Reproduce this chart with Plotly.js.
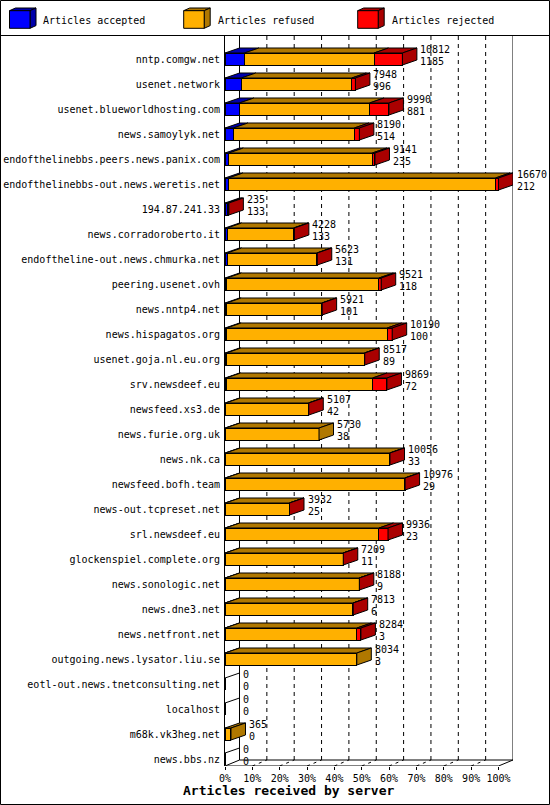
<!DOCTYPE html>
<html>
<head>
<meta charset="utf-8">
<script src="https://cdn.plot.ly/plotly-3.0.1.min.js"></script>
<style>html,body{margin:0;padding:0;background:#fff;}#chart{width:550px;height:805px;}</style>
</head>
<body>
<div id="chart"></div>
<script>
// ---------------- data ----------------
const categories = [
  "nntp.comgw.net", "usenet.network", "usenet.blueworldhosting.com", "news.samoylyk.net",
  "endofthelinebbs.peers.news.panix.com", "endofthelinebbs-out.news.weretis.net", "194.87.241.33",
  "news.corradoroberto.it", "endoftheline-out.news.chmurka.net", "peering.usenet.ovh", "news.nntp4.net",
  "news.hispagatos.org", "usenet.goja.nl.eu.org", "srv.newsdeef.eu", "newsfeed.xs3.de", "news.furie.org.uk",
  "news.nk.ca", "newsfeed.bofh.team", "news-out.tcpreset.net", "srl.newsdeef.eu", "glockenspiel.complete.org",
  "news.sonologic.net", "news.dne3.net", "news.netfront.net", "outgoing.news.lysator.liu.se",
  "eotl-out.news.tnetconsulting.net", "localhost", "m68k.vk3heg.net", "news.bbs.nz"
];
const offered  = [10812, 7948, 9990, 8190, 9141, 16670, 235, 4228, 5623, 9521, 5921, 10190, 8517, 9869, 5107, 5730, 10056, 10976, 3932, 9936, 7209, 8188, 7813, 8284, 8034, 0, 0, 365, 0];
const accepted = [1185, 996, 881, 514, 235, 212, 133, 133, 131, 118, 101, 100, 89, 72, 42, 38, 33, 29, 25, 23, 11, 9, 6, 3, 3, 0, 0, 0, 0];
const refused  = [7897, 6732, 7929, 7371, 8743, 16275, 0, 4045, 5462, 9261, 5800, 9785, 8408, 8922, 5045, 5692, 10003, 10927, 3892, 9363, 7183, 8164, 7792, 8037, 8031, 0, 0, 365, 0];
const rejected = [1730, 220, 1180, 305, 163, 183, 102, 50, 30, 142, 20, 305, 20, 875, 20, 0, 20, 20, 15, 550, 15, 15, 15, 244, 0, 0, 0, 0, 0];
const seriesNames = ["Articles accepted", "Articles refused", "Articles rejected"];
const xTickVals = [0, 10, 20, 30, 40, 50, 60, 70, 80, 90, 100];
const xTickText = ["0%", "10%", "20%", "30%", "40%", "50%", "60%", "70%", "80%", "90%", "100%"];
const xTitle = "Articles received by server";

// ---------------- styles / geometry ----------------
const FONT = "DejaVu Sans Mono";
const frontColors = ["#0000FF", "#FFB000", "#FF0000"];
const darkColors  = ["#0000AA", "#B07800", "#AA0000"];
const M = {l: 225, r: 37, t: 36, b: 39};
const PW = 550 - M.l - M.r, PH = 805 - M.t - M.b;
const PX_PER_PCT = 2.735;           // px per 1 %
const PX_PER_ROW = 25;              // px per category row
const XMAX = PW / PX_PER_PCT;
const YTOP = (M.t - 59) / PX_PER_ROW;
const YBOT = YTOP + PH / PX_PER_ROW;
const DX = 14.5 / PX_PER_PCT;       // depth in x (data units)
const DY = 5 / PX_PER_ROW;          // depth in y (data units)
const FLOOR_DY = 6 / PX_PER_ROW;
const HH = 0.24;                    // half bar height
const LABEL_GAP = 2.5 / PX_PER_PCT;
const px2x = px => (px - M.l) / PW;
const py2y = py => (805 - M.b - py) / PH;

const seriesVals = [accepted, refused, rejected];
const maxTotal = Math.max(...offered);
const pct = v => v / maxTotal * 100;
const idx = categories.map((_, i) => i);

const traces = [];
// front faces
seriesVals.forEach((vals, k) => {
  traces.push({
    type: "bar", orientation: "h", name: seriesNames[k],
    y: idx, x: vals.map(pct), width: 2 * HH,
    marker: {color: frontColors[k], line: {color: "#000", width: 1}},
    hoverinfo: "skip", showlegend: false
  });
});
// top faces
seriesVals.forEach((vals, k) => {
  const xs = [], ys = [];
  idx.forEach(i => {
    const v = vals[i];
    if (v <= 0) return;
    let before = 0;
    for (let j = 0; j < k; j++) before += seriesVals[j][i];
    const x0 = pct(before), x1 = pct(before + v), yT = i - HH;
    xs.push(x0, x1, x1 + DX, x0 + DX, x0, null);
    ys.push(yT, yT, yT - DY, yT - DY, yT, null);
  });
  if (xs.length) traces.push({type: "scatter", mode: "lines", x: xs, y: ys, fill: "toself",
    fillcolor: darkColors[k], line: {color: "#000", width: 1}, hoverinfo: "skip", showlegend: false});
});
// side faces (colour of last non-empty segment)
seriesVals.forEach((vals, k) => {
  const xs = [], ys = [];
  idx.forEach(i => {
    let last = -1, total = 0;
    seriesVals.forEach((s, j) => { total += s[i]; if (s[i] > 0) last = j; });
    if (last !== k) return;
    const xe = pct(total);
    xs.push(xe, xe, xe + DX, xe + DX, xe, null);
    ys.push(i - HH, i + HH, i + HH - DY, i - HH - DY, i - HH, null);
  });
  if (xs.length) traces.push({type: "scatter", mode: "lines", x: xs, y: ys, fill: "toself",
    fillcolor: darkColors[k], line: {color: "#000", width: 1}, hoverinfo: "skip", showlegend: false});
});

const shapes = [];
const annotations = [];
// empty rows: collapsed bar drawn as a single slanted line
idx.forEach(i => {
  const total = accepted[i] + refused[i] + rejected[i];
  if (total > 0) return;
  shapes.push({type: "line", xref: "x", yref: "y", x0: 0, x1: DX, y0: i - HH, y1: i - HH - DY,
    line: {color: "#000", width: 1}});
});

// value labels
idx.forEach(i => {
  const total = accepted[i] + refused[i] + rejected[i];
  const xl = (pct(total) + DX + LABEL_GAP) / XMAX;
  annotations.push({x: xl, y: i, xref: "paper", yref: "y", xanchor: "left", yanchor: "middle",
    text: String(offered[i]), showarrow: false, yshift: 9.5, borderpad: 0,
    font: {family: FONT, size: 10, color: "#000"}});
  annotations.push({x: xl, y: i, xref: "paper", yref: "y", xanchor: "left", yanchor: "middle",
    text: String(accepted[i]), showarrow: false, yshift: -2, borderpad: 0,
    font: {family: FONT, size: 10, color: "#000"}});
});
// axis title
annotations.push({x: px2x(288.5), y: py2y(791), xref: "paper", yref: "paper", xanchor: "center", yanchor: "middle",
  text: "<b>" + xTitle + "</b>", showarrow: false, font: {family: FONT, size: 13, color: "#000"}});

// legend (cubes + labels)
const legendX = [9.5, 183.7, 357.7];
const legendTextX = [42.3, 216.7, 390.7];
seriesNames.forEach((n, k) => {
  const fx0 = legendX[k], fx1 = fx0 + 20.5, fy0 = 10.7, fy1 = 28.3, ddx = 6, ddy = 2.7;
  const P = (x, y) => px2x(x) + "," + py2y(y);
  shapes.push({type: "path", xref: "paper", yref: "paper", fillcolor: darkColors[k], line: {color: "#000", width: 1},
    path: "M" + P(fx0, fy0) + "L" + P(fx1, fy0) + "L" + P(fx1 + ddx, fy0 - ddy) + "L" + P(fx0 + ddx, fy0 - ddy) + "Z"});
  shapes.push({type: "path", xref: "paper", yref: "paper", fillcolor: darkColors[k], line: {color: "#000", width: 1},
    path: "M" + P(fx1, fy0) + "L" + P(fx1, fy1) + "L" + P(fx1 + ddx, fy1 - ddy) + "L" + P(fx1 + ddx, fy0 - ddy) + "Z"});
  shapes.push({type: "rect", xref: "paper", yref: "paper", fillcolor: frontColors[k], line: {color: "#000", width: 1},
    x0: px2x(fx0), x1: px2x(fx1), y0: py2y(fy0), y1: py2y(fy1)});
  annotations.push({x: px2x(legendTextX[k]), y: py2y(20), xref: "paper", yref: "paper", xanchor: "left", yanchor: "middle",
    text: n, showarrow: false, borderpad: 0, font: {family: FONT, size: 10, color: "#000"}});
});

// frame: outer border + legend separator
shapes.push({type: "rect", xref: "paper", yref: "paper", x0: px2x(0.5), x1: px2x(549.5), y0: py2y(0.5), y1: py2y(804.5),
  line: {color: "#000", width: 1}, fillcolor: "rgba(0,0,0,0)"});
shapes.push({type: "line", xref: "paper", yref: "paper", x0: px2x(0), x1: px2x(550), y0: py2y(35.5), y1: py2y(35.5),
  line: {color: "#000", width: 1}});

// back wall gridlines (dashed)
const floorBack = YBOT - FLOOR_DY;
xTickVals.slice(1, -1).forEach(t => {
  shapes.push({type: "line", xref: "x", yref: "y", layer: "below", x0: t + DX, x1: t + DX, y0: YTOP, y1: floorBack,
    line: {color: "#000", width: 1, dash: "4px,4px"}});
});
// back wall left and right
shapes.push({type: "line", xref: "x", yref: "y", layer: "below", x0: DX, x1: DX, y0: YTOP, y1: floorBack, line: {color: "#000", width: 1}});
shapes.push({type: "line", xref: "x", yref: "y", layer: "below", x0: 100 + DX, x1: 100 + DX, y0: YTOP, y1: floorBack, line: {color: "#000", width: 1}});
// floor
shapes.push({type: "line", xref: "x", yref: "y", x0: 0, x1: 100, y0: YBOT, y1: YBOT, line: {color: "#000", width: 1}});
shapes.push({type: "line", xref: "x", yref: "y", x0: 0, x1: DX, y0: YBOT, y1: floorBack, line: {color: "#000", width: 1}});
shapes.push({type: "line", xref: "x", yref: "y", x0: 100, x1: 100 + DX, y0: YBOT, y1: floorBack, line: {color: "#000", width: 1}});
shapes.push({type: "line", xref: "x", yref: "y", x0: DX, x1: 100 + DX + 19 / PX_PER_PCT, y0: floorBack, y1: floorBack, line: {color: "#000", width: 1}});
xTickVals.slice(1, -1).forEach(t => {
  shapes.push({type: "line", xref: "x", yref: "y", x0: t, x1: t + DX, y0: YBOT, y1: floorBack,
    line: {color: "#000", width: 1, dash: "3px,4px"}});
});

const layout = {
  width: 550, height: 805,
  margin: M,
  paper_bgcolor: "#fff", plot_bgcolor: "#fff",
  barmode: "stack", bargap: 0,
  showlegend: false,
  font: {family: FONT, size: 10, color: "#000"},
  xaxis: {range: [0, XMAX], tickmode: "array", tickvals: xTickVals, ticktext: xTickText, ticks: "outside", ticklen: 3, tickcolor: "#000",
    showgrid: false, zeroline: false, showline: false, fixedrange: true,
    tickfont: {family: FONT, size: 10, color: "#000"}},
  yaxis: {range: [YBOT, YTOP], tickmode: "array", tickvals: idx, ticktext: categories, ticks: "outside", ticklen: 2,
    tickcolor: "rgba(0,0,0,0)", showgrid: false, zeroline: false, showline: true, linecolor: "#000", linewidth: 1,
    fixedrange: true, tickfont: {family: FONT, size: 10, color: "#000"}},
  shapes: shapes,
  annotations: annotations
};

Plotly.newPlot("chart", traces, layout, {displayModeBar: false, staticPlot: true});
</script>
</body>
</html>
